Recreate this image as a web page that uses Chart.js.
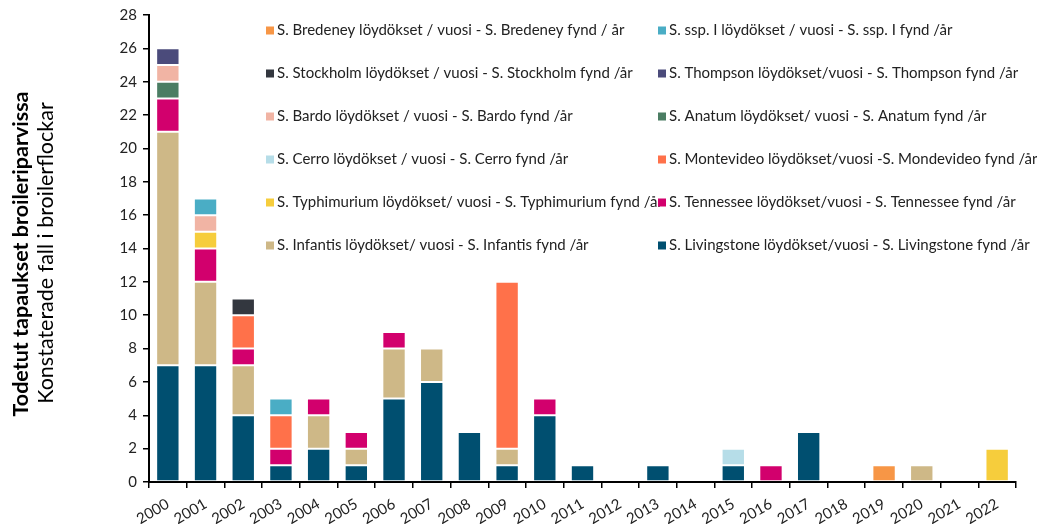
<!DOCTYPE html>
<html>
<head>
<meta charset="utf-8">
<script src="https://cdn.jsdelivr.net/npm/chart.js@4/dist/chart.umd.min.js"></script>
<style>
html,body{margin:0;padding:0;background:#fff;}
#wrap{position:relative;width:1037px;height:524px;}
</style>
</head>
<body>
<div id="wrap"><canvas id="c" width="1037" height="524"></canvas></div>
<script>
const years = ["2000","2001","2002","2003","2004","2005","2006","2007","2008","2009","2010","2011","2012","2013","2014","2015","2016","2017","2018","2019","2020","2021","2022"];
const yTicks = [0,2,4,6,8,10,12,14,16,18,20,22,24,26,28];
const yTitleFi = "Todetut tapaukset broileriparvissa";
const yTitleSv = "Konstaterade fall i broilerflockar";

// series, bottom to top
const livingstone = [7,7,4,1,2,1,5,6,3,1,4,1,0,1,0,1,0,3,0,0,0,0,0];
const infantis    = [14,5,3,0,2,1,3,2,0,1,0,0,0,0,0,0,0,0,0,0,1,0,0];
const tennessee   = [2,2,1,1,1,1,1,0,0,0,1,0,0,0,0,0,1,0,0,0,0,0,0];
const typhimurium = [0,1,0,0,0,0,0,0,0,0,0,0,0,0,0,0,0,0,0,0,0,0,2];
const montevideo  = [0,0,2,2,0,0,0,0,0,10,0,0,0,0,0,0,0,0,0,0,0,0,0];
const cerro       = [0,0,0,0,0,0,0,0,0,0,0,0,0,0,0,1,0,0,0,0,0,0,0];
const anatum      = [1,0,0,0,0,0,0,0,0,0,0,0,0,0,0,0,0,0,0,0,0,0,0];
const bardo       = [1,1,0,0,0,0,0,0,0,0,0,0,0,0,0,0,0,0,0,0,0,0,0];
const thompson    = [1,0,0,0,0,0,0,0,0,0,0,0,0,0,0,0,0,0,0,0,0,0,0];
const stockholm   = [0,0,1,0,0,0,0,0,0,0,0,0,0,0,0,0,0,0,0,0,0,0,0];
const sspI        = [0,1,0,1,0,0,0,0,0,0,0,0,0,0,0,0,0,0,0,0,0,0,0];
const bredeney    = [0,0,0,0,0,0,0,0,0,0,0,0,0,0,0,0,0,0,0,1,0,0,0];

const seriesLabels = [
  "S. Livingstone löydökset/vuosi - S. Livingstone fynd /år",
  "S. Infantis löydökset/ vuosi - S. Infantis fynd /år",
  "S. Tennessee löydökset/vuosi - S. Tennessee fynd /år",
  "S. Typhimurium löydökset/ vuosi - S. Typhimurium fynd /år",
  "S. Montevideo löydökset/vuosi -S. Mondevideo fynd /år",
  "S. Cerro löydökset / vuosi - S. Cerro fynd /år",
  "S. Anatum löydökset/ vuosi - S. Anatum fynd /år",
  "S. Bardo löydökset / vuosi - S. Bardo fynd /år",
  "S. Thompson löydökset/vuosi - S. Thompson fynd /år",
  "S. Stockholm löydökset / vuosi - S. Stockholm fynd /år",
  "S. ssp. I löydökset / vuosi - S. ssp. I fynd /år",
  "S. Bredeney löydökset / vuosi - S. Bredeney fynd / år"
];
const seriesData = [livingstone, infantis, tennessee, typhimurium, montevideo, cerro, anatum, bardo, thompson, stockholm, sspI, bredeney];
const seriesColors = ["#004F70","#CEB887","#D2006D","#F6CD3C","#FF714A","#B6DDE8","#4B7D63","#F1B4A4","#4B4B7B","#33373F","#4AADC5","#F79646"];

const FONT = "Lato, 'Open Sans', sans-serif";

const datasets = seriesData.map((d,i)=>({
  label: seriesLabels[i],
  data: d,
  backgroundColor: seriesColors[i],
  borderColor: 'rgba(255,255,255,0.35)',
  borderWidth: 1,
  borderSkipped: false,
  categoryPercentage: 1.0,
  barPercentage: 0.62
}));

const legendPlugin = {
  id: 'gridLegend',
  afterDraw(chart){
    const ctx = chart.ctx;
    ctx.save();
    ctx.font = "15px " + FONT;
    ctx.textBaseline = 'middle';
    const ds = chart.data.datasets.slice().reverse();
    const colX = [266, 658];
    const rowY = [30.5, 73.5, 116.5, 159.5, 202.5, 245.5];
    const items = ds.map((d,k)=>({d, x: colX[k%2], y: rowY[Math.floor(k/2)]}));
    items.forEach(it=>{
      ctx.fillStyle = '#222';
      ctx.fillText(it.d.label, it.x + 11, it.y);
    });
    items.forEach(it=>{
      ctx.fillStyle = it.d.backgroundColor;
      ctx.fillRect(it.x, it.y - 4, 8, 8);
    });
    ctx.restore();
  }
};

const titlePlugin = {
  id: 'yTitles',
  afterDraw(chart){
    const ctx = chart.ctx;
    ctx.save();
    ctx.fillStyle = '#000';
    ctx.textAlign = 'center';
    ctx.textBaseline = 'middle';
    ctx.translate(21, 254);
    ctx.rotate(-Math.PI/2);
    ctx.font = "bold 21.5px " + FONT;
    ctx.fillText(yTitleFi, 0, 0);
    ctx.restore();
    ctx.save();
    ctx.fillStyle = '#000';
    ctx.textAlign = 'center';
    ctx.textBaseline = 'middle';
    ctx.translate(46, 253);
    ctx.rotate(-Math.PI/2);
    ctx.font = "21.5px " + FONT;
    ctx.fillText(yTitleSv, 0, 0);
    ctx.restore();
  }
};

new Chart(document.getElementById('c'), {
  type: 'bar',
  data: { labels: years, datasets },
  options: {
    responsive: false,
    animation: false,
    layout: { padding: { top: 15, right: 21, left: 0, bottom: 0 } },
    plugins: { legend: { display: false }, tooltip: { enabled: false } },
    scales: {
      x: {
        stacked: true,
        offset: true,
        grid: { display: true, drawOnChartArea: false, drawTicks: true, tickLength: 6, color: '#000', lineWidth: 1.5, offset: true },
        border: { display: true, color: '#000', width: 2 },
        ticks: { color: '#222', font: { family: FONT, size: 15 }, minRotation: 30, maxRotation: 30, autoSkip: false, padding: 7 },
        afterFit(s){ s.height = 42; }
      },
      y: {
        stacked: true,
        min: 0, max: 28,
        afterBuildTicks(s){ s.ticks = yTicks.map(v=>({value:v})); },
        grid: { display: true, drawOnChartArea: false, drawTicks: true, tickLength: 6, color: '#000', lineWidth: 1.5 },
        border: { display: true, color: '#000', width: 2 },
        ticks: { color: '#222', font: { family: FONT, size: 15 }, padding: 6 },
        afterFit(s){ s.width = 149; }
      }
    }
  },
  plugins: [legendPlugin, titlePlugin]
});
</script>
</body>
</html>
